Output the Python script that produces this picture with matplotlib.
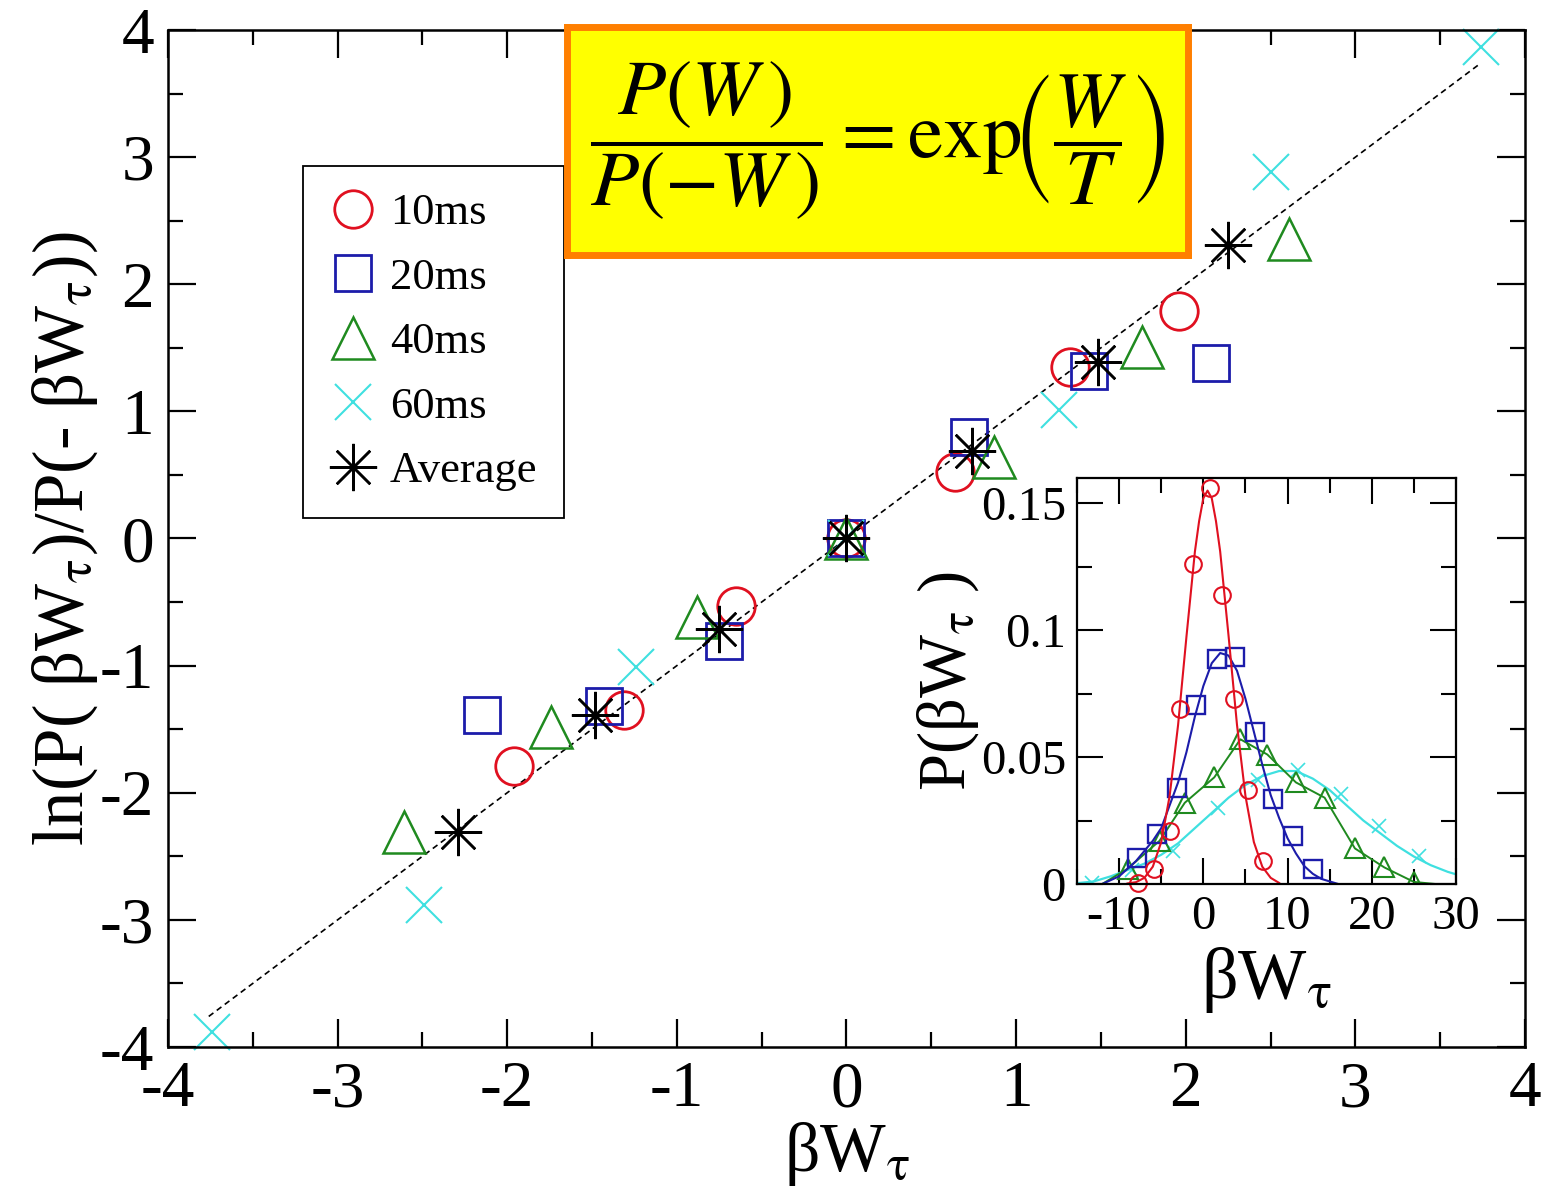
import matplotlib
matplotlib.use("Agg")
import matplotlib.pyplot as plt
from matplotlib.ticker import MultipleLocator

plt.rcParams['font.family'] = ['Liberation Serif', 'DejaVu Serif']
plt.rcParams['mathtext.fontset'] = 'stix'
plt.rcParams['axes.unicode_minus'] = False

# ---- main panel: ln ratio vs beta*W for each protocol time ----
labels = ["10ms", "20ms", "40ms", "60ms", "Average"]

x10 = [-1.96, -1.31, -0.65, 0.0, 0.64, 1.32, 1.96]
y10 = [-1.79, -1.35, -0.53, 0.0, 0.52, 1.35, 1.79]

x20 = [-2.15, -1.43, -0.72, 0.0, 0.72, 1.43, 2.15]
y20 = [-1.39, -1.32, -0.81, 0.0, 0.80, 1.32, 1.38]

x40 = [-2.61, -1.74, -0.88, 0.0, 0.87, 1.74, 2.61]
y40 = [-2.31, -1.48, -0.62, 0.0, 0.64, 1.51, 2.36]

x60 = [-3.74, -2.49, -1.24, 0.0, 1.25, 2.50, 3.74]
y60 = [-3.88, -2.88, -1.01, 0.0, 1.01, 2.88, 3.87]

xavg = [-2.29, -1.48, -0.75, 0.0, 0.74, 1.48, 2.25]
yavg = [-2.31, -1.39, -0.71, 0.0, 0.69, 1.39, 2.31]

# slope-one reference line
line_x = [-3.76, 3.74]
line_y = [-3.76, 3.74]

main_ticks = [-4, -3, -2, -1, 0, 1, 2, 3, 4]
main_ticklabels = ["-4", "-3", "-2", "-1", "0", "1", "2", "3", "4"]

# ---- inset: distributions P(beta*W) ----
ix10 = [-7.7, -5.9, -3.9, -2.8, -1.2, 0.8, 2.2, 3.7, 5.3, 7.1]
iy10 = [0.0005, 0.0058, 0.021, 0.069, 0.126, 0.156, 0.114, 0.073, 0.037, 0.009]
cx10 = [-9, -8, -7, -6, -5, -4, -3, -2, -1, -0.5, 0, 0.5, 1, 1.5, 2, 3, 4, 5, 6, 7, 8, 9]
cy10 = [0.0002, 0.0007, 0.0024, 0.0068, 0.0165, 0.0347, 0.0626, 0.0976, 0.131, 0.143,
        0.152, 0.155, 0.152, 0.143, 0.131, 0.0976, 0.0626, 0.0347, 0.0165, 0.0068, 0.0024, 0.0004]

ix20 = [-7.9, -5.5, -3.15, -0.9, 1.6, 3.75, 6.1, 8.3, 10.65, 13.0]
iy20 = [0.0104, 0.0196, 0.038, 0.0706, 0.0888, 0.0895, 0.060, 0.0335, 0.019, 0.0058]
cx20 = [-12, -10, -8, -6, -5, -4, -3, -2, -1, 0, 1, 2, 3, 4, 5, 6, 7, 8, 9, 10, 11, 12, 13, 14, 16]
cy20 = [0.0, 0.003, 0.009, 0.017, 0.022, 0.031, 0.040, 0.052, 0.066, 0.078, 0.087, 0.091,
        0.090, 0.084, 0.073, 0.060, 0.047, 0.035, 0.026, 0.018, 0.012, 0.007, 0.004, 0.002, 0.0]

ix40 = [-9.0, -5.2, -2.2, 1.3, 4.4, 7.6, 11.0, 14.4, 18.0, 21.5, 25.0]
iy40 = [0.006, 0.017, 0.032, 0.042, 0.057, 0.051, 0.040, 0.034, 0.014, 0.0065, 0.0008]
cx40 = [-12.0, -9.0, -5.2, -2.2, 1.3, 4.4, 7.6, 11.0, 14.4, 18.0, 21.5, 25.0, 27.5]
cy40 = [0.0, 0.006, 0.017, 0.032, 0.042, 0.057, 0.051, 0.040, 0.034, 0.014, 0.0065, 0.0008, 0.0]

ix60 = [-13.2, -8.5, -3.6, 1.7, 6.5, 11.3, 16.4, 20.9, 25.6]
iy60 = [0.0005, 0.0055, 0.013, 0.030, 0.041, 0.045, 0.0355, 0.0229, 0.011]
cx60 = [-15, -13, -11, -9, -7, -5, -3, -1, 1, 3, 5, 7, 9, 11, 13, 15, 17, 19, 21, 23, 25, 27, 29, 30]
cy60 = [0.0003, 0.001, 0.003, 0.0055, 0.008, 0.0115, 0.016, 0.022, 0.028, 0.034, 0.039,
        0.0425, 0.0445, 0.0445, 0.0415, 0.0370, 0.0310, 0.0250, 0.0200, 0.0150, 0.0108,
        0.0074, 0.0048, 0.0038]

inset_xticks = [-10, 0, 10, 20, 30]
inset_xticklabels = ["-10", "0", "10", "20", "30"]
inset_yticks = [0, 0.05, 0.1, 0.15]
inset_yticklabels = ["0", "0.05", "0.1", "0.15"]

RED = "#e01020"
BLUE = "#1c1caa"
GREEN = "#1f8a1f"
CYAN = "#3fe0e0"
BLACK = "#000000"

fig = plt.figure(figsize=(15.43, 12.02), dpi=100)
ax = fig.add_axes([0.1089, 0.129, 0.8794, 0.846])

ax.plot(line_x, line_y, color=BLACK, lw=1.2, dashes=(3.5, 2.5), zorder=1)

h10, = ax.plot(x10, y10, 'o', mfc='none', mec=RED, ms=27, mew=2.0, clip_on=False, label=labels[0])
h20, = ax.plot(x20, y20, 's', mfc='none', mec=BLUE, ms=26, mew=2.0, clip_on=False, label=labels[1])
h40, = ax.plot(x40, y40, '^', mfc='none', mec=GREEN, ms=30, mew=1.8, clip_on=False, label=labels[2])
h60, = ax.plot(x60, y60, 'x', color=CYAN, ms=26, mew=1.5, clip_on=False, label=labels[3])
hav, = ax.plot(xavg, yavg, marker=(8, 2, 0), ls='none', color=BLACK, ms=34, mew=1.8,
               clip_on=False, label=labels[4])

ax.set_xlim(-4, 4)
ax.set_ylim(-4, 4)
ax.set_xticks(main_ticks)
ax.set_xticklabels(main_ticklabels)
ax.set_yticks(main_ticks)
ax.set_yticklabels(main_ticklabels)
ax.xaxis.set_minor_locator(MultipleLocator(0.5))
ax.yaxis.set_minor_locator(MultipleLocator(0.5))
ax.tick_params(which='both', direction='in', top=True, right=True, width=1.6, labelsize=47)
ax.tick_params(which='major', length=20, pad=10)
ax.tick_params(which='minor', length=11)
for s in ax.spines.values():
    s.set_linewidth(1.8)

ax.set_xlabel("βW$_{\\mathrm{τ}}$", fontsize=50, labelpad=0)
ax.set_ylabel("ln(P( βW$_{\\mathrm{τ}}$)/P(- βW$_{\\mathrm{τ}}$))", fontsize=51, labelpad=0)

leg = ax.legend(handles=[h10, h20, h40, h60, hav], loc='upper left',
                bbox_to_anchor=(0.0995, 0.866), fontsize=32, frameon=True,
                fancybox=False, edgecolor=BLACK, framealpha=1, borderpad=0.6,
                labelspacing=0.55, handlelength=1.05, handletextpad=0.3,
                borderaxespad=0)
leg.get_frame().set_linewidth(1.3)

# ---- inset ----
ins = fig.add_axes([0.698, 0.2646, 0.2456, 0.3378])
ins.plot(cx60, cy60, '-', color=CYAN, lw=1.6)
ins.plot(ix60, iy60, 'x', color=CYAN, ms=10, mew=1.2)
ins.plot(cx40, cy40, '-', color=GREEN, lw=1.4)
ins.plot(ix40, iy40, '^', mfc='none', mec=GREEN, ms=14, mew=1.5)
ins.plot(cx20, cy20, '-', color=BLUE, lw=1.5)
ins.plot(ix20, iy20, 's', mfc='none', mec=BLUE, ms=13, mew=1.7)
ins.plot(cx10, cy10, '-', color=RED, lw=1.5)
ins.plot(ix10, iy10, 'o', mfc='none', mec=RED, ms=12, mew=1.5, clip_on=False)

ins.set_xlim(-15, 30)
ins.set_ylim(0, 0.16)
ins.set_xticks(inset_xticks)
ins.set_xticklabels(inset_xticklabels)
ins.set_yticks(inset_yticks)
ins.set_yticklabels(inset_yticklabels)
ins.xaxis.set_minor_locator(MultipleLocator(5))
ins.yaxis.set_minor_locator(MultipleLocator(0.025))
ins.tick_params(which='both', direction='in', top=True, right=True, width=1.5, labelsize=35)
ins.tick_params(which='major', length=19, pad=8)
ins.tick_params(which='minor', length=11)
for s in ins.spines.values():
    s.set_linewidth(1.6)
ins.set_xlabel("βW$_{\\mathrm{τ}}$", fontsize=52, labelpad=4)
ins.set_ylabel("P(βW$_{\\mathrm{τ}}$ )", fontsize=48, labelpad=0)

# ---- boxed relation ----
eq = fig.add_axes([0.3675, 0.788, 0.4025, 0.1895])
eq.set_facecolor("#ffff00")
eq.set_xticks([])
eq.set_yticks([])
for s in eq.spines.values():
    s.set_color("#ff7f00")
    s.set_linewidth(5)
eq.text(0.5, 0.5, r"$\dfrac{P(W\,)}{P(-W\,)}=\mathrm{exp}\!\left(\dfrac{W}{T}\right)$",
        fontsize=57, ha='center', va='center', transform=eq.transAxes)

fig.savefig("out.png", dpi=100)
